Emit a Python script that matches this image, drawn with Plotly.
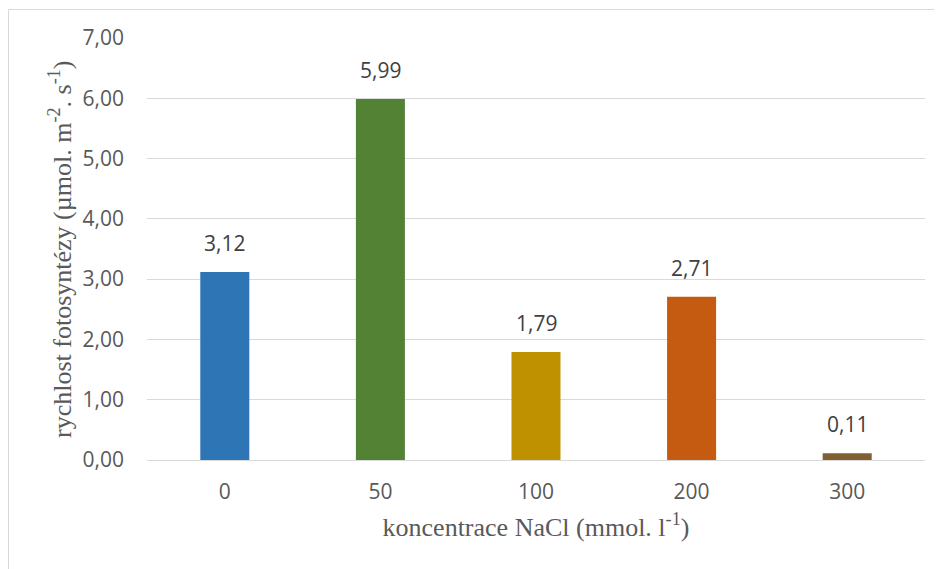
import plotly.graph_objects as go

categories = ["0", "50", "100", "200", "300"]
values = [3.12, 5.99, 1.79, 2.71, 0.11]
colors = ["#2E75B6", "#548235", "#BF9000", "#C55A11", "#7F6032"]
y_ticks = [0, 1, 2, 3, 4, 5, 6, 7]

L, R, T, B = 139, 25, 30, 117
W, H = 942, 569
pw, ph = W - L - R, H - T - B

tick_font = dict(family="Open Sans, sans-serif", size=21, color="#595959")
title_font = dict(family="Liberation Serif, Times New Roman, serif", size=26, color="#595959")

fig = go.Figure(go.Bar(
    x=categories, y=values,
    marker=dict(color=colors, line=dict(width=0)),
    hoverinfo="x+y",
))

annotations = [
    dict(x=i, y=v, xref="x", yref="y", text=f"{v:.2f}".replace(".", ","),
         showarrow=False, yanchor="bottom", yshift=13,
         font=dict(family="Open Sans, sans-serif", size=21, color="#404040"))
    for i, v in enumerate(values)
]
annotations.append(dict(
    x=(52 - L) / pw, y=0.5, xref="paper", yref="paper",
    text="rychlost fotosyntézy (µmol. m<sup>-2</sup>. s<sup>-1</sup>)",
    textangle=-90, showarrow=False, xanchor="center", yanchor="middle",
    font=title_font,
))

fig.update_layout(
    width=W, height=H,
    margin=dict(l=L, r=R, t=T, b=B),
    paper_bgcolor="white", plot_bgcolor="white",
    separators=", ",
    bargap=0.685,
    showlegend=False,
    annotations=annotations,
    xaxis=dict(
        type="category", range=[-0.5, len(categories) - 0.5],
        showgrid=False, showline=True, linecolor="#D9D9D9", linewidth=1,
        ticks="", tickfont=tick_font, ticklabelstandoff=13,
        title=dict(text="koncentrace NaCl (mmol. l<sup>-1</sup>)", font=title_font, standoff=13),
    ),
    yaxis=dict(
        range=[0, 7], tickvals=y_ticks, tickformat=".2f",
        showgrid=True, gridcolor="#D9D9D9", gridwidth=1,
        zeroline=False, showline=False, ticks="",
        tickfont=tick_font, ticklabelstandoff=22,
    ),
    shapes=[dict(type="rect", xref="paper", yref="paper",
                 x0=(0.5 - L) / pw, x1=(W + 20 - L) / pw,
                 y0=-(B + 20) / ph, y1=(H - B - 1.5) / ph,
                 line=dict(color="#D9D9D9", width=1), layer="below")],
)

fig.write_html("out.html")
